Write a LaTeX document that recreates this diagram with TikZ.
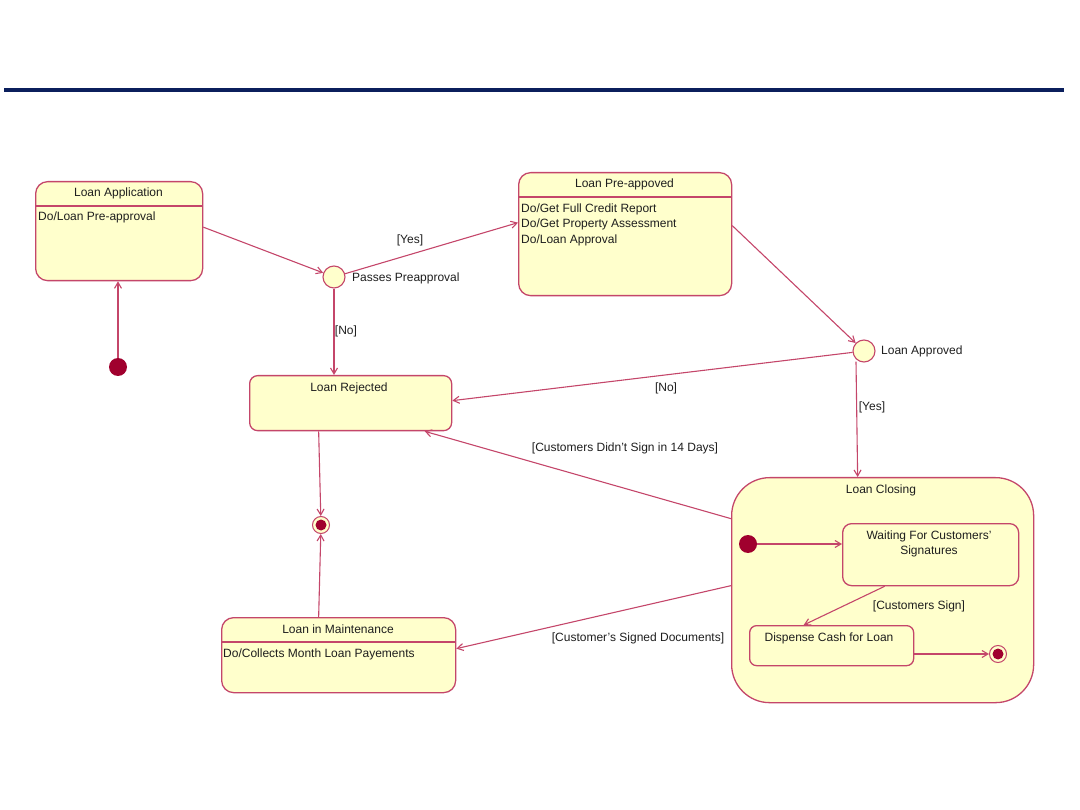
\documentclass[tikz,border=0pt]{standalone}
\usepackage{fontspec}
\setmainfont{Liberation Sans}
\usetikzlibrary{arrows.meta}
\definecolor{edgecol}{HTML}{C4466A}
\definecolor{fillcol}{HTML}{FFFFCC}
\definecolor{dotcol}{HTML}{A0002E}
\definecolor{navybar}{HTML}{0B1F5C}
\definecolor{txtcol}{HTML}{1E1E1E}
\begin{document}
\begin{tikzpicture}[x=1pt,y=-1pt,
  font=\fontsize{12}{15.5}\selectfont,
  statebox/.style={draw=edgecol,fill=fillcol,line width=1.3pt,rounded corners=12pt,inner sep=0pt,anchor=north west},
  divider/.style={draw=edgecol,line width=1.1pt},
  arr/.style={draw=edgecol,line width=1.1pt,-{Straight Barb[length=6pt,width=7pt]}},
  lbl/.style={text=txtcol,inner sep=0pt},
  decision/.style={circle,draw=edgecol,fill=fillcol,line width=1.1pt,minimum size=22pt,inner sep=0pt},
  initdot/.style={circle,fill=dotcol,minimum size=18pt,inner sep=0pt},
  finalring/.style={circle,draw=edgecol,fill=fillcol,line width=1pt,minimum size=17pt,inner sep=0pt},
  finalcore/.style={circle,fill=dotcol,minimum size=11pt,inner sep=0pt}]
\useasboundingbox (0,0) rectangle (1080,810);
\fill[navybar] (4,88) rectangle (1064,92);

% Loan Application
\node[statebox,minimum width=167pt,minimum height=99pt] (app) at (35,181) {};
\draw[divider] (app.west |- 0,206) -- (app.east |- 0,206);
\node[lbl] (appT) at (118.5,193) {Loan Application};
\node[lbl,anchor=west] (appB) at (38,217) {Do/Loan Pre-approval};

% Loan Pre-appoved
\node[statebox,minimum width=213pt,minimum height=123pt] (pre) at (518,172) {};
\draw[divider] (pre.west |- 0,197) -- (pre.east |- 0,197);
\node[lbl] (preT) at (624.5,184) {Loan Pre-appoved};
\node[lbl,anchor=west] (preB1) at (521,209) {Do/Get Full Credit Report};
\node[lbl,anchor=west] (preB2) at (521,224.5) {Do/Get Property Assessment};
\node[lbl,anchor=west] (preB3) at (521,240) {Do/Loan Approval};

% Loan Rejected
\node[statebox,minimum width=202pt,minimum height=55pt,rounded corners=8pt] (rej) at (249,375) {};
\node[lbl] (rejT) at (349,388) {Loan Rejected};

% Loan in Maintenance
\node[statebox,minimum width=234pt,minimum height=75pt] (maint) at (221,617) {};
\draw[divider] (maint.west |- 0,642) -- (maint.east |- 0,642);
\node[lbl] (maintT) at (338,629) {Loan in Maintenance};
\node[lbl,anchor=west] (maintB) at (223,654) {Do/Collects Month Loan Payements};

% Loan Closing
\node[statebox,minimum width=302pt,minimum height=225pt,rounded corners=38pt] (closing) at (731,477) {};
\node[lbl] (closingT) at (881,490) {Loan Closing};
\node[statebox,minimum width=176pt,minimum height=62pt,rounded corners=9pt] (wait) at (842,523) {};
\node[lbl,align=center,font=\fontsize{12}{15}\selectfont] (waitT) at (929,543.5) {Waiting For Customers'\\Signatures};
\node[statebox,minimum width=164pt,minimum height=40pt,rounded corners=7pt] (disp) at (749,625) {};
\node[lbl] (dispT) at (829,638) {Dispense Cash for Loan};

% pseudo states
\node[initdot] (init1) at (118,367) {};
\node[initdot] (init2) at (748,544) {};
\node[decision] (dec1) at (334,277) {};
\node[decision] (dec2) at (864,351) {};
\node[finalring] (fin1) at (321,525) {};
\node[finalcore] (fin1c) at (321,525) {};
\node[finalring] (fin2) at (998,654) {};
\node[finalcore] (fin2c) at (998,654) {};

% labels
\node[lbl,anchor=west] (dec1L) at (352,278) {Passes Preapproval};
\node[lbl,anchor=west] (dec2L) at (881,351) {Loan Approved};
\node[lbl] (yes1) at (410,240) {[Yes]};
\node[lbl] (no1) at (346,331) {[No]};
\node[lbl] (no2) at (666,388) {[No]};
\node[lbl] (yes2) at (872,407) {[Yes]};
\node[lbl] (didnt) at (625,448) {[Customers Didn't Sign in 14 Days]};
\node[lbl] (signed) at (638,638) {[Customer's Signed Documents]};
\node[lbl] (csign) at (919,606) {[Customers Sign]};

% connectors
\draw[arr] (init1) -- (init1 |- app.south);
\draw[arr] ([yshift=4pt]app.east) -- (dec1);
\draw[arr] (dec1) -- ([yshift=11.5pt]pre.west);
\draw[arr] ([yshift=8.5pt]pre.east) -- (dec2);
\draw[arr] (dec1) -- (dec1 |- rej.north);
\draw[arr] (dec2) -- ([yshift=2.5pt]rej.east);
\draw[arr] ([xshift=-8pt,yshift=1pt]dec2.south) -- ([xshift=-25pt]closing.north);
\draw[arr] ([yshift=71.5pt]closing.west) -- ([xshift=74pt]rej.south);
\draw[arr] ([yshift=4.5pt]closing.west) -- ([yshift=6.5pt]maint.east);
\draw[arr] ([xshift=-32pt]rej.south) -- (fin1);
\draw[arr] ([xshift=-20pt]maint.north) -- (fin1);
\draw[arr] (init2) -- (wait.west |- init2);
\draw[arr] ([xshift=-46pt]wait.south) -- ([xshift=-28pt]disp.north);
\draw[arr] (disp.east |- fin2) -- (fin2);
\end{tikzpicture}
\end{document}
